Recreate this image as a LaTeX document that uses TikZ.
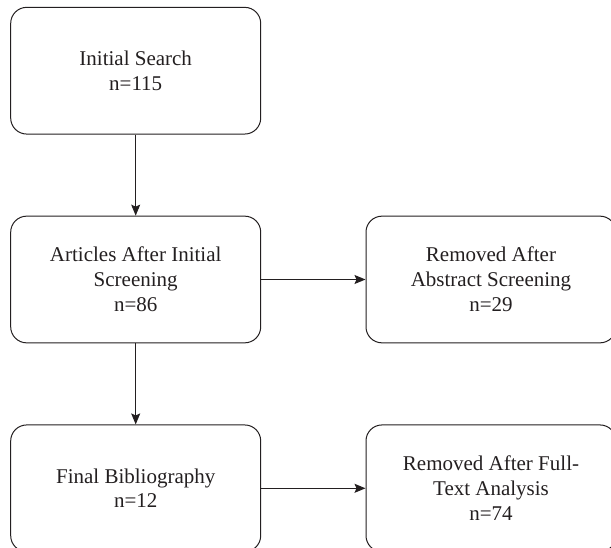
\documentclass[tikz,border=0pt]{standalone}
\usepackage{fontspec}
\setmainfont{Liberation Serif}
\usetikzlibrary{positioning, arrows.meta}
\definecolor{flowink}{RGB}{35,31,32}

\tikzset{
  stagebox/.style={draw=flowink, line width=1pt, rounded corners=16pt,
    minimum width=250pt, minimum height=126.7pt, inner sep=0pt,
    align=center, text=flowink,
    font=\fontsize{21}{24.8}\selectfont},
  flowarrow/.style={draw=flowink, line width=1pt,
    -{Stealth[length=11pt, width=9pt, inset=2pt]}}
}

\begin{document}
\begin{tikzpicture}[x=1pt, y=1pt]
  \useasboundingbox (0,0) rectangle (611,-548);

  % left column
  \node[stagebox] (search) at (135.7,-70.7) {Initial Search\\n=115};
  \node[stagebox] (screened) at (135.7,-279.5)
    {Articles After Initial\\Screening\\n=86};
  \node[stagebox] (biblio) at (135.7,-488.3)
    {Final Bibliography\\n=12};

  % removed records
  \node[stagebox] (absremoved) at (491,-279.5)
    {Removed After\\Abstract Screening\\n=29};
  \node[stagebox] (ftremoved) at (491,-488.3)
    {Removed After Full-\\Text Analysis\\n=74};

  % connectors
  \draw[flowarrow] (search) -- (screened);
  \draw[flowarrow] (screened) -- (biblio);
  \draw[flowarrow] (screened) -- (absremoved);
  \draw[flowarrow] (biblio) -- (ftremoved);
\end{tikzpicture}
\end{document}
